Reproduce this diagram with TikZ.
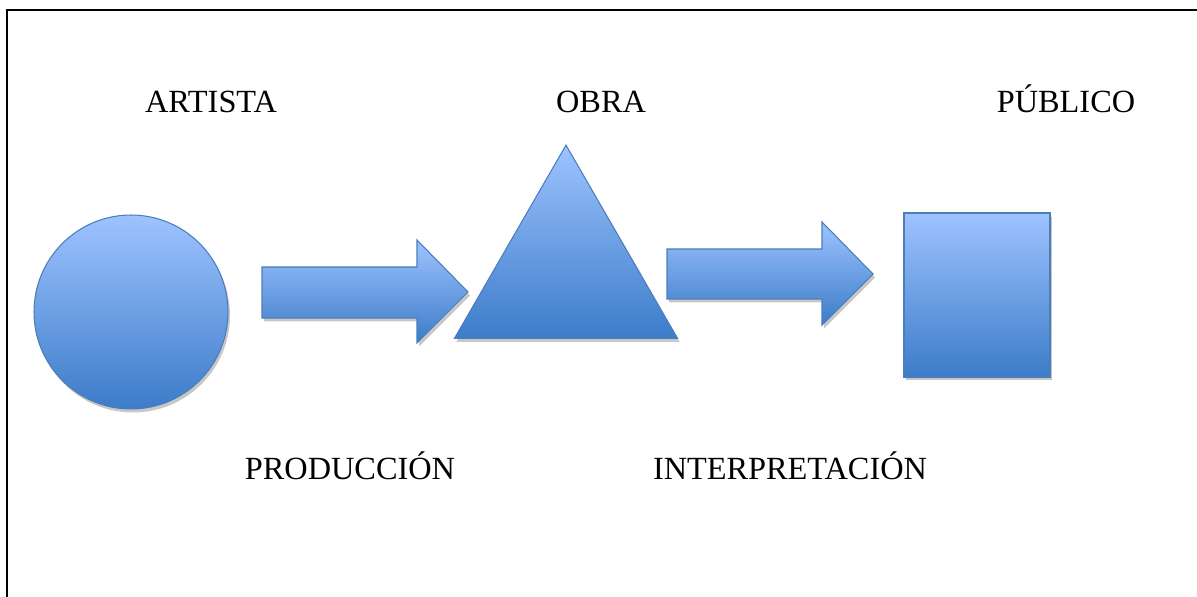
\documentclass[tikz,border=0pt]{standalone}
\usepackage{fontspec}
\setmainfont{Liberation Serif}
\usetikzlibrary{shapes.geometric,shadows}
\definecolor{blueTop}{RGB}{158,195,255}
\definecolor{blueMid}{RGB}{118,162,228}
\definecolor{blueBot}{RGB}{60,124,201}
\definecolor{blueLine}{RGB}{74,126,187}

\begin{document}
\begin{tikzpicture}[x=0.02cm,y=-0.02cm,
    solid3d/.style={draw=blueLine,line width=0.6pt,top color=blueTop,middle color=blueMid,bottom color=blueBot,
        drop shadow={shadow xshift=0.04cm,shadow yshift=-0.07cm,opacity=0.22,fill=black}},
    lbl/.style={anchor=base,inner sep=0pt,font=\fontsize{18.4}{22}\selectfont}]
            \useasboundingbox (0,0) rectangle (1197,597);
            \draw[line width=1.4pt] (7,597)--(7,10)--(1197,10);

            \node[lbl] (tartista) at (211,113) {ARTISTA};
            \node[lbl] (tobra) at (601,113) {OBRA};
            \node[lbl] (tpublico) at (1066,113) {PÚBLICO};
            \node[lbl] (tproduccion) at (350,480) {PRODUCCIÓN};
            \node[lbl] (tinterpretacion) at (790,480) {INTERPRETACIÓN};

            \node[solid3d,circle,inner sep=0pt,minimum size=3.88cm] (artista) at (131,312) {};
            \node[solid3d,regular polygon,regular polygon sides=3,inner sep=0pt,minimum size=5.156cm] (obra) at (566,274) {};
            \node[solid3d,rectangle,inner sep=0pt,minimum width=2.92cm,minimum height=3.28cm] (publico) at (977,295) {};

            \path[solid3d] (262,267)--(417,267)--(417,240)--(468,292)--(417,343)--(417,318)--(262,318)--cycle;
            \path[solid3d] (667,249)--(822,249)--(822,222)--(873,274)--(822,325)--(822,299)--(667,299)--cycle;
        \end{tikzpicture}
\end{document}
